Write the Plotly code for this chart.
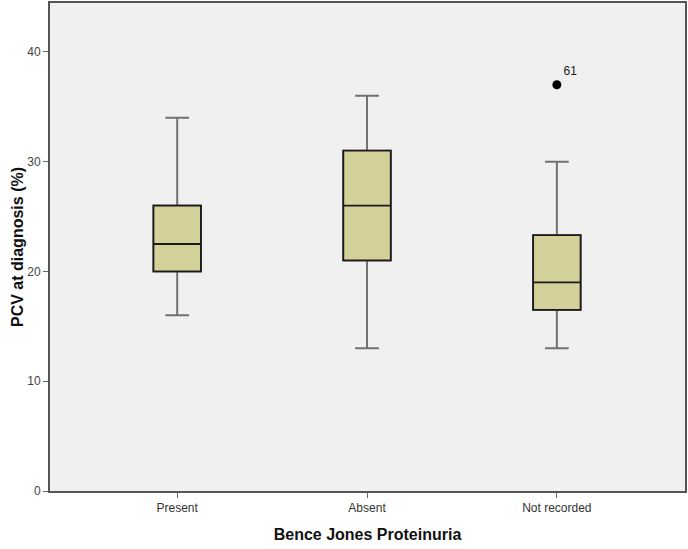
import plotly.graph_objects as go

categories = ["Present", "Absent", "Not recorded"]
lower_whisker = [16, 13, 13]
q1 = [20, 21, 16.5]
median = [22.5, 26, 19]
q3 = [26, 31, 23.3]
upper_whisker = [34, 36, 30]

outlier_group = [2]
outlier_value = [37]
outlier_label = ["61"]

positions = list(range(len(categories)))
fill = "#d4d09a"

fig = go.Figure()

# whiskers (lighter grey)
fig.add_trace(go.Box(
    x=positions, q1=q1, median=median, q3=q3,
    lowerfence=lower_whisker, upperfence=upper_whisker,
    width=0.25, whiskerwidth=0.5, fillcolor=fill,
    line=dict(color="#707070", width=2), hoverinfo="skip",
))
# box body on top, darker outline
fig.add_trace(go.Box(
    x=positions, q1=q1, median=median, q3=q3,
    lowerfence=q1, upperfence=q3,
    width=0.25, whiskerwidth=0, fillcolor=fill,
    line=dict(color="#1a1a1a", width=1.8), hoverinfo="skip",
))
fig.add_trace(go.Scatter(
    x=outlier_group, y=outlier_value, mode="markers+text",
    marker=dict(color="black", size=9),
    text=outlier_label, textposition="top right",
    textfont=dict(family="Arial", size=12, color="#222"),
))

fig.update_layout(
    width=688, height=549,
    margin=dict(l=50, r=2, t=1, b=58),
    paper_bgcolor="white", plot_bgcolor="#f0f0f0",
    showlegend=False, boxmode="overlay",
    font=dict(family="Arial", color="#333"),
)
fig.update_xaxes(
    range=[-0.67, 2.675], tickvals=positions, ticktext=categories,
    showgrid=False, zeroline=False, showline=True, mirror=True,
    linecolor="#555", linewidth=2, ticks="outside", ticklen=5,
    tickcolor="#666", tickfont=dict(size=12, color="#333"),
    title=dict(text="<b>Bence Jones Proteinuria</b>", font=dict(size=16, color="#111"), standoff=14),
)
fig.update_yaxes(
    range=[0, 44.45], tickvals=[0, 10, 20, 30, 40],
    showgrid=False, zeroline=False, showline=True, mirror=True,
    linecolor="#555", linewidth=2, ticks="outside", ticklen=5,
    tickcolor="#666", tickfont=dict(size=12, color="#444"),
    title=dict(text="<b>PCV at diagnosis (%)</b>", font=dict(size=16, color="#111"), standoff=0),
)

fig.write_html("out.html", config={"displayModeBar": False},
               post_script="document.body.style.margin='0';")
